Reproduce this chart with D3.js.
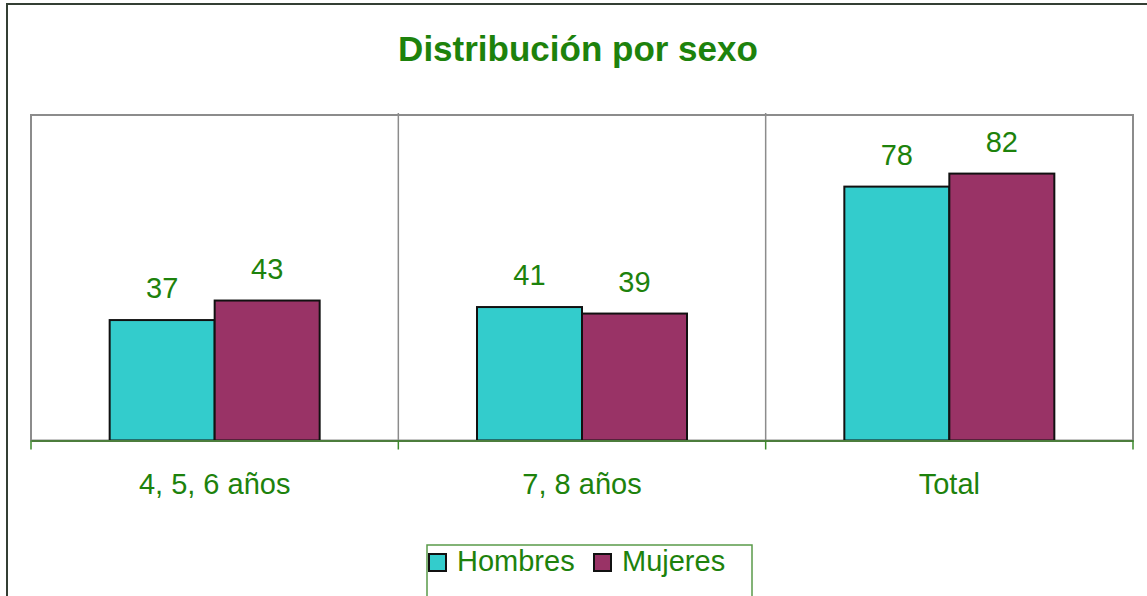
<!DOCTYPE html>
<html lang="es">
<head>
<meta charset="UTF-8">
<title>Distribución por sexo</title>
<script src="https://cdn.jsdelivr.net/npm/d3@7"></script>
<style>
  html, body { margin: 0; padding: 0; background: #fff; }
  svg { display: block; font-family: "Liberation Sans", Arial, sans-serif; }
</style>
</head>
<body>
<svg width="1147" height="596"></svg>
<script>
// datos
var categorias = ["4, 5, 6 años", "7, 8 años", "Total"];
var series = ["Hombres", "Mujeres"];
var hombres = [37, 41, 78];
var mujeres = [43, 39, 82];
var colores = ["#33CCCC", "#993366"];

var verde = "#1d820c";
var svg = d3.select("svg");

// marco exterior
svg.append("rect")
  .attr("x", 7).attr("y", 4)
  .attr("width", 1160).attr("height", 620)
  .attr("fill", "none").attr("stroke", "#343f34").attr("stroke-width", 2);

// titulo
svg.append("text")
  .attr("x", 578).attr("y", 61)
  .attr("text-anchor", "middle")
  .attr("font-size", 35).attr("font-weight", "bold")
  .attr("fill", verde)
  .text("Distribución por sexo");

var mIzq = 31, mDer = 1133, mSup = 115, mInf = 440.5;

var x0 = d3.scaleBand().domain(categorias).range([mIzq, mDer]);
var x1 = d3.scaleBand().domain(series).range([0, 210]);
var y = d3.scaleLinear().domain([0, 100]).range([mInf, mSup]);

// area del grafico
svg.append("rect")
  .attr("x", mIzq).attr("y", mSup)
  .attr("width", mDer - mIzq).attr("height", mInf - mSup)
  .attr("fill", "#fff").attr("stroke", "#8c8c8c").attr("stroke-width", 2);

// separadores de categoria
svg.append("g").selectAll("line")
  .data(categorias.slice(1))
  .enter().append("line")
  .attr("x1", function(d) { return x0(d); })
  .attr("x2", function(d) { return x0(d); })
  .attr("y1", mSup - 2).attr("y2", mInf)
  .attr("stroke", "#8c8c8c").attr("stroke-width", 1.5);

var filas = categorias.map(function(c, i) {
  return { cat: c, valores: [
    { serie: series[0], v: hombres[i] },
    { serie: series[1], v: mujeres[i] }
  ] };
});

var grupos = svg.append("g").selectAll("g")
  .data(filas)
  .enter().append("g")
  .attr("transform", function(d) {
    return "translate(" + (x0(d.cat) + x0.bandwidth() / 2 - 105) + ",0)";
  });

grupos.selectAll("rect")
  .data(function(d) { return d.valores; })
  .enter().append("rect")
  .attr("x", function(d) { return x1(d.serie); })
  .attr("y", function(d) { return y(d.v); })
  .attr("width", x1.bandwidth())
  .attr("height", function(d) { return mInf - y(d.v); })
  .attr("fill", function(d, i) { return colores[i]; })
  .attr("stroke", "#111").attr("stroke-width", 2);

grupos.selectAll("text")
  .data(function(d) { return d.valores; })
  .enter().append("text")
  .attr("x", function(d) { return x1(d.serie) + x1.bandwidth() / 2; })
  .attr("y", function(d) { return y(d.v) - 22; })
  .attr("text-anchor", "middle")
  .attr("font-size", 29)
  .attr("fill", verde)
  .text(function(d) { return d.v; });

// eje x
var eje = svg.append("g")
  .attr("transform", "translate(0," + mInf + ")")
  .call(d3.axisBottom(x0).tickSize(0).tickPadding(53));
eje.select(".domain").attr("stroke", "#4c7d3c").attr("stroke-width", 2);
eje.selectAll("text")
  .attr("font-size", 29)
  .attr("font-family", "Liberation Sans, Arial, sans-serif")
  .attr("fill", verde)
  .attr("dy", 0);

// marcas entre categorias
var bordes = [mIzq].concat(categorias.map(function(c) { return x0(c) + x0.bandwidth(); }));
svg.append("g").selectAll("line")
  .data(bordes)
  .enter().append("line")
  .attr("x1", function(d) { return d; })
  .attr("x2", function(d) { return d; })
  .attr("y1", mInf).attr("y2", mInf + 9)
  .attr("stroke", "#3c8a2c").attr("stroke-width", 1.5);

// leyenda
var leyenda = svg.append("g");
leyenda.append("rect")
  .attr("x", 427).attr("y", 545)
  .attr("width", 325).attr("height", 80)
  .attr("fill", "#fff").attr("stroke", "#5a9a4a").attr("stroke-width", 1.5);

var posLeyenda = d3.scaleOrdinal().domain(series).range([429, 594]);
var items = leyenda.selectAll("g")
  .data(series)
  .enter().append("g")
  .attr("transform", function(d) { return "translate(" + posLeyenda(d) + ",554)"; });
items.append("rect")
  .attr("width", 17).attr("height", 17)
  .attr("fill", function(d, i) { return colores[i]; })
  .attr("stroke", "#111").attr("stroke-width", 2);
items.append("text")
  .attr("x", 28).attr("y", 17)
  .attr("font-size", 29)
  .attr("fill", verde)
  .text(function(d) { return d; });
</script>
</body>
</html>
